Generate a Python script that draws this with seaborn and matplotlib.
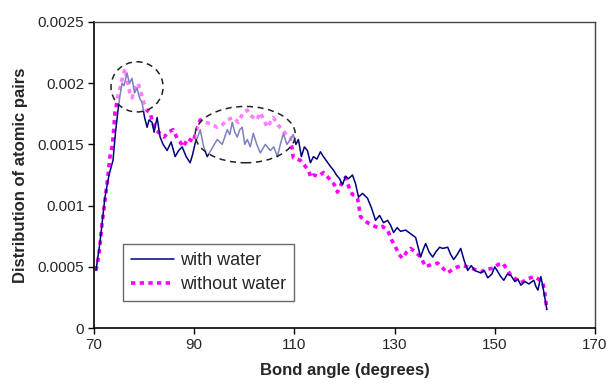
import matplotlib
matplotlib.use('Agg')
import matplotlib.pyplot as plt
from matplotlib.patches import Ellipse
import pandas as pd
import seaborn as sns

# %%
# with water
angle_water = [70.4, 71.2, 72.2, 73.0, 73.8, 74.3, 74.8, 75.2, 75.6, 76.0, 76.6, 77.1, 77.6, 78.1,
               78.6, 79.1, 79.6, 80.1, 80.6, 81.0, 81.6, 82.0, 82.6, 83.2, 83.8, 84.6, 85.4, 86.2,
               86.9, 87.6, 88.4, 89.2, 89.7, 90.2, 90.7, 91.2, 91.9, 92.6, 93.6, 94.6, 95.6, 96.6,
               97.1, 97.6, 98.1, 98.6, 99.1, 99.6, 100.1, 100.6, 101.2, 101.8, 102.5, 103.2, 104.2,
               105.2, 105.9, 106.6, 107.2, 107.8, 108.5, 109.2, 109.8, 110.3, 110.8, 111.4, 112.0,
               112.6, 113.2, 113.8, 114.5, 115.2, 115.8, 116.5, 117.2, 117.8, 118.4, 119.0, 119.6,
               120.2, 120.8, 121.6, 122.2, 122.8, 123.6, 124.6, 125.4, 126.2, 127.0, 127.8, 128.6,
               129.2, 129.8, 130.5, 131.2, 132.2, 133.2, 134.2, 134.7, 135.2, 135.7, 136.2, 136.9,
               137.6, 138.2, 139.0, 139.6, 140.6, 141.2, 141.8, 142.5, 143.2, 143.9, 144.6, 145.3,
               146.0, 147.2, 147.9, 148.6, 149.4, 150.0, 150.6, 151.2, 151.8, 152.5, 153.2, 154.0,
               154.6, 155.2, 156.0, 156.8, 157.8, 158.2, 158.6, 159.2, 159.5, 159.8, 160.1, 160.4]
dist_water = [0.00047, 0.0007, 0.00107, 0.00125, 0.00137, 0.0016, 0.00178, 0.0019, 0.002, 0.00198,
              0.00208, 0.002, 0.00204, 0.00192, 0.00196, 0.00188, 0.00184, 0.00172, 0.00164, 0.0017,
              0.00168, 0.0016, 0.00172, 0.00156, 0.0015, 0.00145, 0.00152, 0.0014, 0.00145, 0.00148,
              0.0014, 0.00135, 0.00142, 0.00151, 0.00156, 0.00162, 0.00148, 0.0014, 0.00147, 0.00154,
              0.0015, 0.00162, 0.00158, 0.00168, 0.0016, 0.00156, 0.00162, 0.00164, 0.0015, 0.00154,
              0.00148, 0.00159, 0.0015, 0.00143, 0.0015, 0.00145, 0.00148, 0.0014, 0.0015, 0.00159,
              0.0015, 0.00154, 0.00158, 0.0015, 0.00154, 0.0014, 0.00148, 0.00145, 0.00135, 0.0014,
              0.00138, 0.00144, 0.0014, 0.00136, 0.00132, 0.00129, 0.00125, 0.00122, 0.00117, 0.00124,
              0.00122, 0.00125, 0.00118, 0.00107, 0.0011, 0.00106, 0.00098, 0.00088, 0.00092, 0.00086,
              0.00088, 0.00084, 0.00078, 0.00082, 0.00079, 0.0008, 0.00077, 0.00074, 0.00066, 0.00058,
              0.00064, 0.00069, 0.00062, 0.00058, 0.00062, 0.00066, 0.00065, 0.00066, 0.0006, 0.00056,
              0.0006, 0.00065, 0.00055, 0.00047, 0.00051, 0.00047, 0.00045, 0.00047, 0.00041, 0.00044,
              0.0005, 0.00046, 0.00042, 0.00039, 0.00044, 0.00043, 0.00038, 0.0004, 0.00035, 0.00038,
              0.00036, 0.00039, 0.00034, 0.00031, 0.00042, 0.00036, 0.00029, 0.00022, 0.00015]

# without water
angle_dry = [70.4, 71.0, 71.6, 72.0, 72.6, 73.2, 73.7, 74.2, 74.8, 75.2, 75.6, 76.2, 76.8, 77.2,
             77.6, 78.2, 78.8, 79.3, 79.8, 80.5, 81.2, 81.7, 82.2, 83.2, 84.0, 84.8, 85.8, 86.6,
             87.2, 87.8, 88.8, 89.8, 90.5, 91.2, 92.2, 93.2, 94.6, 95.6, 96.6, 97.8, 98.8, 99.8,
             100.6, 101.2, 101.8, 102.5, 103.2, 103.9, 104.6, 105.2, 105.8, 106.7, 107.6, 108.4,
             109.2, 109.8, 110.5, 111.2, 112.0, 112.8, 113.3, 113.8, 114.8, 115.8, 116.5, 117.2,
             118.0, 118.6, 119.4, 120.2, 120.9, 121.6, 122.2, 122.6, 123.2, 124.0, 124.6, 125.6,
             126.6, 127.6, 128.6, 129.4, 130.2, 130.9, 131.6, 132.4, 133.2, 134.2, 135.2, 135.7,
             136.2, 137.4, 138.6, 139.6, 140.6, 141.6, 142.6, 143.6, 144.6, 145.9, 147.2, 148.5,
             149.8, 150.7, 151.6, 152.4, 153.2, 154.2, 155.2, 156.5, 157.8, 158.7, 159.6, 160.0, 160.4]
dist_dry = [0.00047, 0.0006, 0.00085, 0.00098, 0.00118, 0.0014, 0.0015, 0.00176, 0.0019, 0.00196,
            0.00203, 0.00212, 0.00198, 0.00192, 0.00188, 0.00196, 0.002, 0.00194, 0.00186, 0.00178,
            0.00176, 0.00168, 0.00162, 0.00159, 0.00156, 0.0016, 0.00162, 0.00155, 0.00152, 0.00148,
            0.00155, 0.00152, 0.00162, 0.0017, 0.00168, 0.00167, 0.00164, 0.00166, 0.0017, 0.00172,
            0.00168, 0.00176, 0.00178, 0.00174, 0.00172, 0.0017, 0.00176, 0.0017, 0.00164, 0.00168,
            0.00172, 0.00166, 0.00162, 0.00158, 0.00156, 0.00139, 0.00138, 0.00137, 0.00133, 0.00129,
            0.00123, 0.00125, 0.00124, 0.00127, 0.00124, 0.00121, 0.00117, 0.00111, 0.00118, 0.00123,
            0.00115, 0.00109, 0.00108, 0.00106, 0.00091, 0.00088, 0.00086, 0.00084, 0.00082, 0.00083,
            0.0008, 0.00072, 0.00066, 0.0006, 0.00057, 0.00062, 0.00065, 0.00062, 0.00058, 0.00054,
            0.0005, 0.00052, 0.00053, 0.00049, 0.00045, 0.00048, 0.0005, 0.00051, 0.0005, 0.00048,
            0.00046, 0.00048, 0.00049, 0.00052, 0.00053, 0.00048, 0.00043, 0.0004, 0.00037, 0.0004,
            0.00042, 0.0004, 0.00037, 0.00028, 0.00015]

x_ticks = [70, 90, 110, 130, 150, 170]
y_ticks = [0, 0.0005, 0.001, 0.0015, 0.002, 0.0025]
y_ticklabels = ['0', '0.0005', '0.001', '0.0015', '0.002', '0.0025']

# %%
sns.set_style('white')
plt.rcParams['font.family'] = ['Liberation Sans', 'DejaVu Sans']

df_water = pd.DataFrame({'angle': angle_water, 'dist': dist_water})
df_dry = pd.DataFrame({'angle': angle_dry, 'dist': dist_dry})

fig = plt.figure(figsize=(6.11, 3.88), dpi=100)
ax = fig.add_axes([0.1538, 0.1546, 0.82, 0.7887])

sns.lineplot(data=df_water, x='angle', y='dist', ax=ax, color='#000080', lw=1.1,
             label='with water', zorder=3)
sns.lineplot(data=df_dry, x='angle', y='dist', ax=ax, color='#ff00ff', lw=2.6,
             label='without water', zorder=2)
ax.lines[1].set_dashes((1.2, 1.2))

# the two circled regions (faded, dashed outline)
for (cx, cy, w, h) in [(78.6, 0.00197, 10.4, 0.00041), (100.2, 0.00158, 20.0, 0.00046)]:
    ax.add_patch(Ellipse((cx, cy), w, h, facecolor='white', alpha=0.5, edgecolor='none', zorder=4))
    ax.add_patch(Ellipse((cx, cy), w, h, facecolor='none', edgecolor='#222222',
                         linestyle=(0, (4, 3)), lw=1.1, zorder=5))

ax.set_xlim(70, 170)
ax.set_ylim(0, 0.0025)
ax.set_xticks(x_ticks)
ax.set_yticks(y_ticks)
ax.set_yticklabels(y_ticklabels)
ax.tick_params(axis='both', labelsize=11, direction='out', length=4, width=1,
               bottom=True, left=True, color='black', pad=3)
ax.set_xlabel('Bond angle (degrees)', fontsize=12, fontweight='bold', labelpad=8)
ax.set_ylabel('Distribution of atomic pairs', fontsize=12, fontweight='bold', labelpad=7)

for side in ['left', 'bottom']:
    ax.spines[side].set_color('black')
    ax.spines[side].set_linewidth(1.2)
for side in ['top', 'right']:
    ax.spines[side].set_color('#444444')
    ax.spines[side].set_linewidth(1.0)

leg = ax.legend(loc='upper left', bbox_to_anchor=(0.058, 0.275), fontsize=13, frameon=True,
                fancybox=False, borderpad=0.45, handlelength=2.4, handletextpad=0.3,
                labelspacing=0.4, borderaxespad=0)
leg.get_frame().set_edgecolor('#444444')
leg.get_frame().set_linewidth(1.0)

fig.savefig('out.png', dpi=100)
